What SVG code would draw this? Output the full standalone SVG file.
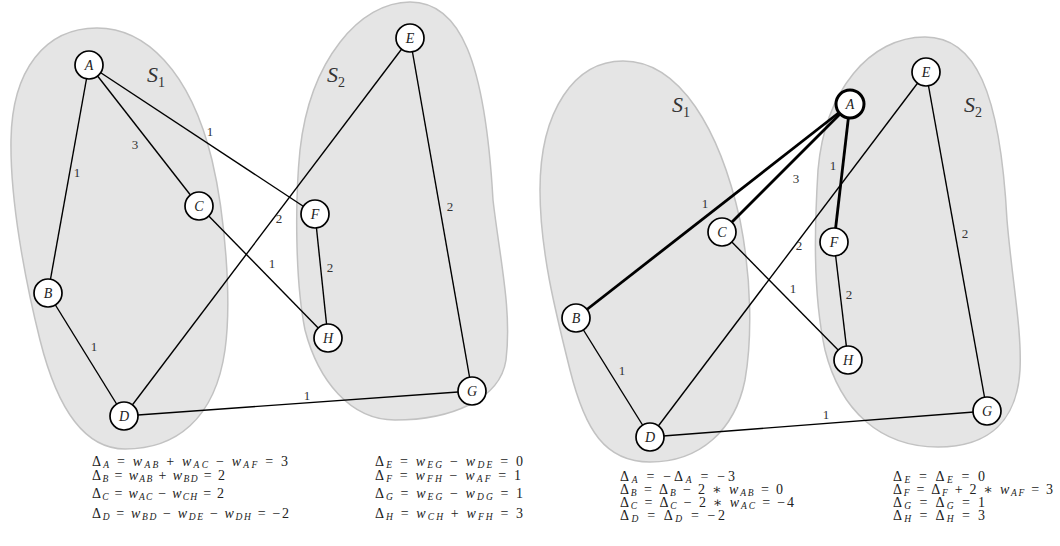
<svg xmlns="http://www.w3.org/2000/svg" width="1060" height="546" viewBox="0 0 1060 546">
<style>
.blob{fill:#e5e5e5;stroke:#c2c2c2;stroke-width:1.5}
.e{stroke:#000;stroke-width:1.4;fill:none}
.t{stroke:#000;stroke-width:2.8;fill:none}
.n circle{fill:#fff;stroke:#000;stroke-width:1.7}
.n text{font-family:"Liberation Serif","DejaVu Serif",serif;font-style:italic;font-size:14px;text-anchor:middle;fill:#222}
.w{font-family:"Liberation Serif","DejaVu Serif",serif;font-size:13px;fill:#333;text-anchor:middle}
.s{font-family:"Liberation Serif","DejaVu Serif",serif;font-style:italic;font-size:22px;fill:#333}
.s tspan{font-style:normal;font-size:14px}
.f{font-family:"Liberation Serif","DejaVu Serif",serif;font-size:14px;fill:#222}
.f .i{font-style:italic}
.f .b{font-style:italic;font-size:9.5px}
</style>
<g id="sets">
<path class="blob" d="M97 28 C145 28,190 70,212 160 C225 215,232 300,225 350 C215 420,175 449,125 449 C80 449,55 400,40 340 C25 280,10 200,11 140 C12 70,45 28,97 28 Z"/>
<path class="blob" d="M410 2 C460 2,485 60,493 200 C500 260,512 310,506 360 C500 400,450 420,395 420 C350 420,318 380,305 330 C295 280,295 200,300 150 C310 60,360 2,410 2 Z"/>
<path class="blob" d="M623 61 C680 61,720 130,740 220 C752 280,752 340,745 380 C735 430,700 462,650 462 C605 462,585 430,570 370 C555 310,540 250,540 190 C540 110,575 61,623 61 Z"/>
<path class="blob" d="M925 37 C975 37,1000 90,1007 220 C1012 280,1022 330,1020 370 C1017 420,990 447,938 447 C880 447,840 410,825 350 C812 290,815 220,818 170 C825 90,870 37,925 37 Z"/>
<text class="s" x="147" y="82">S<tspan dy="5">1</tspan></text>
<text class="s" x="327" y="82">S<tspan dy="5">2</tspan></text>
<text class="s" x="672" y="112">S<tspan dy="5">1</tspan></text>
<text class="s" x="964" y="112">S<tspan dy="5">2</tspan></text>
</g>
<g id="connectors">
<line class="e" x1="89" y1="65" x2="48" y2="293"/>
<line class="e" x1="89" y1="65" x2="199" y2="206"/>
<line class="e" x1="89" y1="65" x2="315" y2="214"/>
<line class="e" x1="48" y1="293" x2="124" y2="416"/>
<line class="e" x1="124" y1="416" x2="410" y2="38"/>
<line class="e" x1="199" y1="206" x2="328" y2="338"/>
<line class="e" x1="315" y1="214" x2="328" y2="338"/>
<line class="e" x1="410" y1="38" x2="472" y2="391"/>
<line class="e" x1="124" y1="416" x2="472" y2="391"/>
<line class="t" x1="850" y1="104" x2="576" y2="318"/>
<line class="t" x1="850" y1="104" x2="722" y2="232"/>
<line class="t" x1="850" y1="104" x2="834" y2="242"/>
<line class="e" x1="576" y1="318" x2="650" y2="437"/>
<line class="e" x1="650" y1="437" x2="926" y2="72"/>
<line class="e" x1="722" y1="232" x2="848" y2="360"/>
<line class="e" x1="834" y1="242" x2="848" y2="360"/>
<line class="e" x1="926" y1="72" x2="987" y2="411"/>
<line class="e" x1="650" y1="437" x2="987" y2="411"/>
<text class="w" x="77" y="177">1</text>
<text class="w" x="135" y="149">3</text>
<text class="w" x="210" y="136">1</text>
<text class="w" x="94" y="351">1</text>
<text class="w" x="279" y="223">2</text>
<text class="w" x="272" y="268">1</text>
<text class="w" x="330" y="272">2</text>
<text class="w" x="450" y="211">2</text>
<text class="w" x="307" y="400">1</text>
<text class="w" x="705" y="208">1</text>
<text class="w" x="796" y="183">3</text>
<text class="w" x="833" y="170">1</text>
<text class="w" x="799" y="250">2</text>
<text class="w" x="793" y="293">1</text>
<text class="w" x="849" y="299">2</text>
<text class="w" x="965" y="238">2</text>
<text class="w" x="826" y="419">1</text>
<text class="w" x="622" y="375">1</text>
</g>
<g id="nA" class="n"><circle cx="89" cy="65" r="14"/><text x="89" y="70">A</text></g>
<g id="nB" class="n"><circle cx="48" cy="293" r="14"/><text x="48" y="298">B</text></g>
<g id="nC" class="n"><circle cx="199" cy="206" r="14"/><text x="199" y="211">C</text></g>
<g id="nD" class="n"><circle cx="124" cy="416" r="14"/><text x="124" y="421">D</text></g>
<g id="nE" class="n"><circle cx="410" cy="38" r="14"/><text x="410" y="43">E</text></g>
<g id="nF" class="n"><circle cx="315" cy="214" r="14"/><text x="315" y="219">F</text></g>
<g id="nH" class="n"><circle cx="328" cy="338" r="14"/><text x="328" y="343">H</text></g>
<g id="nG" class="n"><circle cx="472" cy="391" r="14"/><text x="472" y="396">G</text></g>
<g id="rA" class="n"><circle cx="850" cy="104" r="14" style="stroke-width:3"/><text x="850" y="109">A</text></g>
<g id="rB" class="n"><circle cx="576" cy="318" r="14"/><text x="576" y="323">B</text></g>
<g id="rC" class="n"><circle cx="722" cy="232" r="14"/><text x="722" y="237">C</text></g>
<g id="rD" class="n"><circle cx="650" cy="437" r="14"/><text x="650" y="442">D</text></g>
<g id="rE" class="n"><circle cx="926" cy="72" r="14"/><text x="926" y="77">E</text></g>
<g id="rF" class="n"><circle cx="834" cy="242" r="14"/><text x="834" y="247">F</text></g>
<g id="rH" class="n"><circle cx="848" cy="360" r="14"/><text x="848" y="365">H</text></g>
<g id="rG" class="n"><circle cx="987" cy="411" r="14"/><text x="987" y="416">G</text></g>
<g id="formulas">
<text class="f" x="92" y="466" textLength="196">Δ<tspan class="b" dy="2">A</tspan><tspan dy="-2"> = </tspan><tspan class="i">w</tspan><tspan class="b" dy="2">AB</tspan><tspan dy="-2"> + </tspan><tspan class="i">w</tspan><tspan class="b" dy="2">AC</tspan><tspan dy="-2"> − </tspan><tspan class="i">w</tspan><tspan class="b" dy="2">AF</tspan><tspan dy="-2"> = 3</tspan></text>
<text class="f" x="92" y="480" textLength="133">Δ<tspan class="b" dy="2">B</tspan><tspan dy="-2"> = </tspan><tspan class="i">w</tspan><tspan class="b" dy="2">AB</tspan><tspan dy="-2"> + </tspan><tspan class="i">w</tspan><tspan class="b" dy="2">BD</tspan><tspan dy="-2"> = 2</tspan></text>
<text class="f" x="92" y="498" textLength="132">Δ<tspan class="b" dy="2">C</tspan><tspan dy="-2"> = </tspan><tspan class="i">w</tspan><tspan class="b" dy="2">AC</tspan><tspan dy="-2"> − </tspan><tspan class="i">w</tspan><tspan class="b" dy="2">CH</tspan><tspan dy="-2"> = 2</tspan></text>
<text class="f" x="92" y="518" textLength="197">Δ<tspan class="b" dy="2">D</tspan><tspan dy="-2"> = </tspan><tspan class="i">w</tspan><tspan class="b" dy="2">BD</tspan><tspan dy="-2"> − </tspan><tspan class="i">w</tspan><tspan class="b" dy="2">DE</tspan><tspan dy="-2"> − </tspan><tspan class="i">w</tspan><tspan class="b" dy="2">DH</tspan><tspan dy="-2"> = −2</tspan></text>
<text class="f" x="375" y="466" textLength="148">Δ<tspan class="b" dy="2">E</tspan><tspan dy="-2"> = </tspan><tspan class="i">w</tspan><tspan class="b" dy="2">EG</tspan><tspan dy="-2"> − </tspan><tspan class="i">w</tspan><tspan class="b" dy="2">DE</tspan><tspan dy="-2"> = 0</tspan></text>
<text class="f" x="375" y="480" textLength="146">Δ<tspan class="b" dy="2">F</tspan><tspan dy="-2"> = </tspan><tspan class="i">w</tspan><tspan class="b" dy="2">FH</tspan><tspan dy="-2"> − </tspan><tspan class="i">w</tspan><tspan class="b" dy="2">AF</tspan><tspan dy="-2"> = 1</tspan></text>
<text class="f" x="375" y="498" textLength="148">Δ<tspan class="b" dy="2">G</tspan><tspan dy="-2"> = </tspan><tspan class="i">w</tspan><tspan class="b" dy="2">EG</tspan><tspan dy="-2"> − </tspan><tspan class="i">w</tspan><tspan class="b" dy="2">DG</tspan><tspan dy="-2"> = 1</tspan></text>
<text class="f" x="375" y="518" textLength="148">Δ<tspan class="b" dy="2">H</tspan><tspan dy="-2"> = </tspan><tspan class="i">w</tspan><tspan class="b" dy="2">CH</tspan><tspan dy="-2"> + </tspan><tspan class="i">w</tspan><tspan class="b" dy="2">FH</tspan><tspan dy="-2"> = 3</tspan></text>
<text class="f" x="620" y="481" textLength="115">Δ<tspan class="b" dy="2">A</tspan><tspan dy="-2"> = −Δ</tspan><tspan class="b" dy="2">A</tspan><tspan dy="-2"> = −3</tspan></text>
<text class="f" x="620" y="494" textLength="163">Δ<tspan class="b" dy="2">B</tspan><tspan dy="-2"> = Δ</tspan><tspan class="b" dy="2">B</tspan><tspan dy="-2"> − 2 ∗ </tspan><tspan class="i">w</tspan><tspan class="b" dy="2">AB</tspan><tspan dy="-2"> = 0</tspan></text>
<text class="f" x="620" y="507" textLength="174">Δ<tspan class="b" dy="2">C</tspan><tspan dy="-2"> = Δ</tspan><tspan class="b" dy="2">C</tspan><tspan dy="-2"> − 2 ∗ </tspan><tspan class="i">w</tspan><tspan class="b" dy="2">AC</tspan><tspan dy="-2"> = −4</tspan></text>
<text class="f" x="620" y="520" textLength="105">Δ<tspan class="b" dy="2">D</tspan><tspan dy="-2"> = Δ</tspan><tspan class="b" dy="2">D</tspan><tspan dy="-2"> = −2</tspan></text>
<text class="f" x="893" y="481" textLength="92">Δ<tspan class="b" dy="2">E</tspan><tspan dy="-2"> = Δ</tspan><tspan class="b" dy="2">E</tspan><tspan dy="-2"> = 0</tspan></text>
<text class="f" x="893" y="494" textLength="160">Δ<tspan class="b" dy="2">F</tspan><tspan dy="-2"> = Δ</tspan><tspan class="b" dy="2">F</tspan><tspan dy="-2"> + 2 ∗ </tspan><tspan class="i">w</tspan><tspan class="b" dy="2">AF</tspan><tspan dy="-2"> = 3</tspan></text>
<text class="f" x="893" y="507" textLength="92">Δ<tspan class="b" dy="2">G</tspan><tspan dy="-2"> = Δ</tspan><tspan class="b" dy="2">G</tspan><tspan dy="-2"> = 1</tspan></text>
<text class="f" x="893" y="520" textLength="92">Δ<tspan class="b" dy="2">H</tspan><tspan dy="-2"> = Δ</tspan><tspan class="b" dy="2">H</tspan><tspan dy="-2"> = 3</tspan></text>
</g>
</svg>
